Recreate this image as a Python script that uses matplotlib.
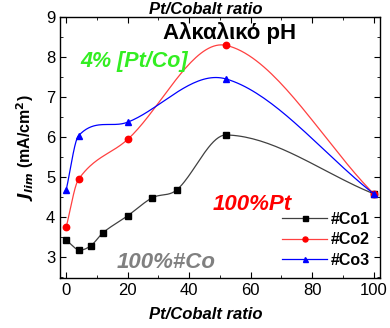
import numpy as np
import matplotlib.pyplot as plt
from matplotlib.ticker import MultipleLocator

plt.rcParams['font.family'] = ['Liberation Sans', 'DejaVu Sans']

# data
x_co1 = [0, 4, 8, 12, 20, 28, 36, 52, 100]
y_co1 = [3.43, 3.19, 3.29, 3.62, 4.04, 4.49, 4.69, 6.06, 4.59]
x_co2 = [0, 4, 20, 52, 100]
y_co2 = [3.76, 4.95, 5.95, 8.30, 4.59]
x_co3 = [0, 4, 20, 52, 100]
y_co3 = [4.69, 6.04, 6.38, 7.46, 4.59]
labels = ['#Co1', '#Co2', '#Co3']


def smooth(x, y, n=40):
    # Catmull-Rom style hermite curve through the points (like Origin's spline connect)
    x = np.asarray(x, float)
    y = np.asarray(y, float)
    m = np.empty_like(y)
    m[0] = (y[1] - y[0]) / (x[1] - x[0])
    m[-1] = (y[-1] - y[-2]) / (x[-1] - x[-2])
    m[1:-1] = (y[2:] - y[:-2]) / (x[2:] - x[:-2])
    xs, ys = [], []
    for i in range(len(x) - 1):
        h = x[i + 1] - x[i]
        t = np.linspace(0, 1, n)
        h00 = 2*t**3 - 3*t**2 + 1
        h10 = t**3 - 2*t**2 + t
        h01 = -2*t**3 + 3*t**2
        h11 = t**3 - t**2
        xs.append(x[i] + t*h)
        ys.append(h00*y[i] + h10*h*m[i] + h01*y[i+1] + h11*h*m[i+1])
    return np.concatenate(xs), np.concatenate(ys)


fig = plt.figure(figsize=(3.9, 3.28), dpi=100)
ax = fig.add_axes([0.154, 0.152, 0.82, 0.795])

series = [(x_co1, y_co1, '#404040', 'black', 's'),
          (x_co2, y_co2, '#ff4040', 'red', 'o'),
          (x_co3, y_co3, 'blue', 'blue', '^')]
handles = []
for (xv, yv, lc, mc, mk), lab in zip(series, labels):
    sx, sy = smooth(xv, yv)
    ax.plot(sx, sy, color=lc, lw=0.9)
    ax.plot(xv, yv, ls='none', marker=mk, color=mc, ms=4.6)
    h, = ax.plot([], [], color=lc, lw=0.9, marker=mk, mfc=mc, mec=mc, ms=3.6, label=lab)
    handles.append(h)

ax.set_xlim(-2, 102)
ax.set_ylim(2.48, 9)
ax.xaxis.set_major_locator(MultipleLocator(20))
ax.xaxis.set_minor_locator(MultipleLocator(10))
ax.yaxis.set_major_locator(MultipleLocator(1))
ax.yaxis.set_minor_locator(MultipleLocator(0.5))
ax.tick_params(which='both', direction='in', top=True, right=True, labelsize=12)
ax.tick_params(which='major', length=4)
ax.tick_params(which='minor', length=2.5)
for s in ax.spines.values():
    s.set_linewidth(1.0)

ax.set_xlabel('Pt/Cobalt ratio', fontsize=12, fontweight='bold', style='italic')
ax.xaxis.set_label_coords(0.455, -0.11)
ax.set_ylabel(r'$\mathbfit{J}_{\mathbfit{lim}}$ (mA/cm$^\mathbf{2}$)', fontsize=11.5, fontweight='bold')
ax.yaxis.set_label_coords(-0.075, 0.5)
ax.set_title('Pt/Cobalt ratio', fontsize=12, fontweight='bold', style='italic', x=0.455, pad=1)

ax.text(53, 8.62, 'Αλκαλικό pH', fontsize=16, fontweight='bold', ha='center', va='center')
ax.text(4.5, 7.9, '4% [Pt/Co]', fontsize=15.5, fontweight='bold', style='italic', color='#33ee22', va='center')
ax.text(47.5, 4.33, '100%Pt', fontsize=16, fontweight='bold', style='italic', color='red', va='center')
ax.text(16.5, 2.87, '100%#Co', fontsize=16, fontweight='bold', style='italic', color='gray', va='center')

ax.legend(handles=handles, loc='lower right', frameon=False, prop={'weight': 'bold', 'size': 11.5},
          handlelength=2.8, borderaxespad=0.25, labelspacing=0.35, handletextpad=0.2)

fig.savefig('out.png', dpi=100)
